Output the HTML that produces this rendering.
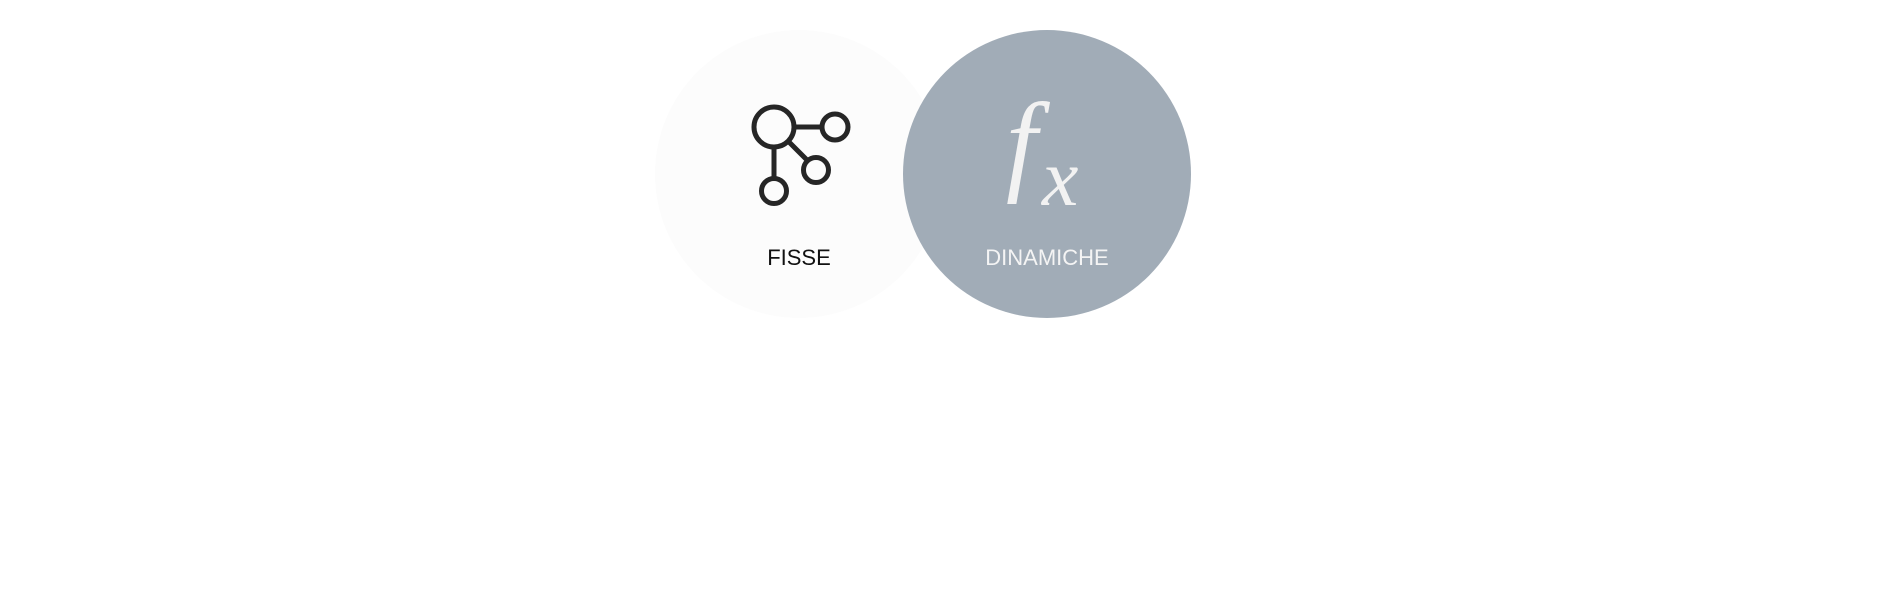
<!DOCTYPE html>
<html><head><style>
html,body{margin:0;padding:0;background:#fff;width:1896px;height:591px;overflow:hidden}
</style></head><body>
<svg width="1896" height="591" xmlns="http://www.w3.org/2000/svg">
<circle cx="799" cy="174" r="144" fill="#fcfcfc"/>
<circle cx="1047" cy="174" r="144" fill="#a1acb7"/>
<g stroke="#262626" stroke-width="5" fill="none">
<line x1="794" y1="127" x2="822" y2="127"/>
<line x1="774" y1="147" x2="774" y2="178"/>
<line x1="788" y1="141" x2="807" y2="160"/>
<circle cx="774" cy="127" r="20"/>
<circle cx="835" cy="127" r="13"/>
<circle cx="816" cy="170" r="12.5"/>
<circle cx="774" cy="191" r="12.5"/>
</g>
<text x="799" y="265" font-family="Liberation Sans, sans-serif" font-size="22" fill="#111" text-anchor="middle">FISSE</text>
<text x="1047" y="265" font-family="Liberation Sans, sans-serif" font-size="22" fill="#f4f4f4" text-anchor="middle">DINAMICHE</text>
<text x="1006" y="180" font-family="Liberation Serif, serif" font-style="italic" font-size="112" fill="#f2f2f2">f</text>
<text x="1042" y="205" font-family="Liberation Serif, serif" font-style="italic" font-size="82" fill="#f2f2f2">x</text>
</svg>
</body></html>
